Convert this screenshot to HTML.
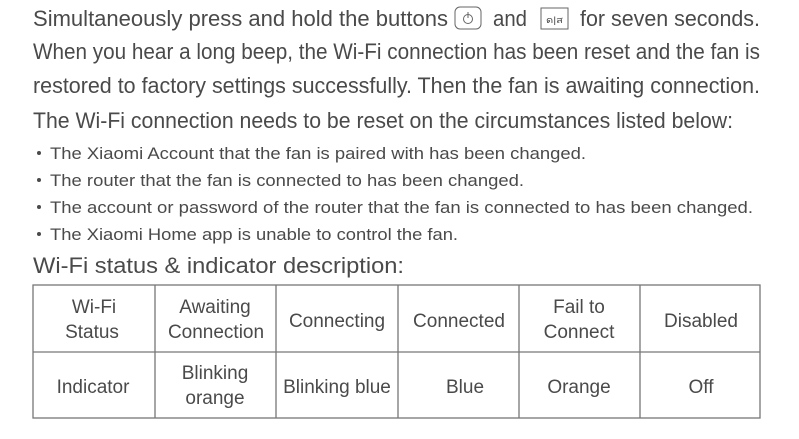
<!DOCTYPE html>
<html><head><meta charset="utf-8"><style>
body{margin:0;background:#fff;width:799px;height:439px;overflow:hidden}
svg{display:block}
text{font-family:"Liberation Sans",sans-serif;fill:#4a4a4a}
</style></head><body>
<svg width="799" height="439" viewBox="0 0 799 439">
<g font-size="22">
<text x="33" y="26" textLength="415" lengthAdjust="spacingAndGlyphs">Simultaneously press and hold the buttons</text>
<rect x="455" y="7" width="26" height="22" rx="5" fill="none" stroke="#666" stroke-width="1"/>
<circle cx="468" cy="19" r="4.5" fill="none" stroke="#666" stroke-width="1"/>
<line x1="468" y1="12" x2="468" y2="18" stroke="#666" stroke-width="1"/>
<text x="493" y="26" textLength="34" lengthAdjust="spacingAndGlyphs">and</text>
<rect x="541" y="8" width="27" height="21" fill="none" stroke="#666" stroke-width="1"/>
<text x="546" y="23" font-size="9" textLength="17" lengthAdjust="spacingAndGlyphs">ด|ส</text>
<text x="580" y="26" textLength="180" lengthAdjust="spacingAndGlyphs">for seven seconds.</text>
<text x="33" y="59" textLength="727" lengthAdjust="spacingAndGlyphs">When you hear a long beep, the Wi-Fi connection has been reset and the fan is</text>
<text x="33" y="93" textLength="727" lengthAdjust="spacingAndGlyphs">restored to factory settings successfully. Then the fan is awaiting connection.</text>
<text x="33" y="128" textLength="700" lengthAdjust="spacingAndGlyphs">The Wi-Fi connection needs to be reset on the circumstances listed below:</text>
</g>
<g font-size="17">
<circle cx="39" cy="153" r="2" fill="#4a4a4a"/>
<text x="50" y="159" textLength="536" lengthAdjust="spacingAndGlyphs">The Xiaomi Account that the fan is paired with has been changed.</text>
<circle cx="39" cy="180" r="2" fill="#4a4a4a"/>
<text x="50" y="186" textLength="474" lengthAdjust="spacingAndGlyphs">The router that the fan is connected to has been changed.</text>
<circle cx="39" cy="207" r="2" fill="#4a4a4a"/>
<text x="50" y="213" textLength="703" lengthAdjust="spacingAndGlyphs">The account or password of the router that the fan is connected to has been changed.</text>
<circle cx="39" cy="234" r="2" fill="#4a4a4a"/>
<text x="50" y="240" textLength="408" lengthAdjust="spacingAndGlyphs">The Xiaomi Home app is unable to control the fan.</text>
</g>
<text x="33" y="273" font-size="22" textLength="371" lengthAdjust="spacingAndGlyphs">Wi-Fi status &amp; indicator description:</text>
<g stroke="#777" stroke-width="1.3" fill="none">
<rect x="33" y="285" width="727" height="133"/>
<line x1="33" y1="352" x2="760" y2="352"/>
<line x1="155" y1="285" x2="155" y2="418"/>
<line x1="276" y1="285" x2="276" y2="418"/>
<line x1="398" y1="285" x2="398" y2="418"/>
<line x1="519" y1="285" x2="519" y2="418"/>
<line x1="640" y1="285" x2="640" y2="418"/>
</g>
<g font-size="19" text-anchor="middle">
<text x="94" y="313">Wi-Fi</text><text x="92" y="338">Status</text>
<text x="215" y="313">Awaiting</text><text x="216" y="338">Connection</text>
<text x="337" y="327">Connecting</text>
<text x="459" y="327">Connected</text>
<text x="579" y="313">Fail to</text><text x="579" y="338">Connect</text>
<text x="701" y="327">Disabled</text>
<text x="93" y="393">Indicator</text>
<text x="215" y="379">Blinking</text><text x="215" y="404">orange</text>
<text x="337" y="393">Blinking blue</text>
<text x="465" y="393">Blue</text>
<text x="579" y="393">Orange</text>
<text x="701" y="393">Off</text>
</g>
</svg>
</body></html>
